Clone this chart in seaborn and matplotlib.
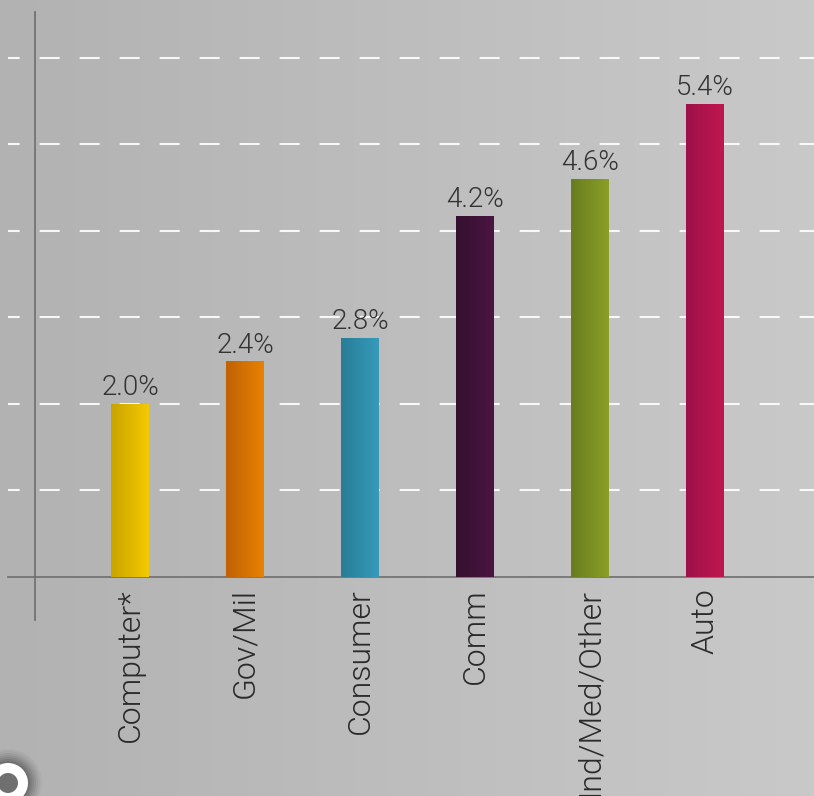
import numpy as np
import pandas as pd
import matplotlib
matplotlib.use('Agg')
import matplotlib.pyplot as plt
import seaborn as sns
from matplotlib.colors import LinearSegmentedColormap
from matplotlib.patches import Circle
from matplotlib.transforms import IdentityTransform

# Data
categories = ['Computer*', 'Gov/Mil', 'Consumer', 'Comm', 'Ind/Med/Other', 'Auto']
values = [2.0, 2.49, 2.76, 4.17, 4.60, 5.47]
value_labels = ['2.0%', '2.4%', '2.8%', '4.2%', '4.6%', '5.4%']
color_left = ['#c9a300', '#bf6206', '#287d97', '#34102f', '#687c20', '#9e1049']
color_right = ['#f4c900', '#e88102', '#369bba', '#4b1542', '#8b9e27', '#c1174f']

df = pd.DataFrame({'segment': categories, 'growth': values})

sns.set_style('white')
plt.rcParams['font.family'] = ['Roboto', 'DejaVu Sans']

W, H = 814, 796
fig = plt.figure(figsize=(W / 100, H / 100), dpi=100)

# Gray gradient background
bg = fig.add_axes([0, 0, 1, 1], zorder=-10)
bg_cmap = LinearSegmentedColormap.from_list('bg', ['#b2b2b2', '#c9c9c9'])
bg.imshow(np.linspace(0, 1, 256).reshape(1, -1), cmap=bg_cmap, aspect='auto',
          extent=[0, 1, 0, 1])
bg.set_axis_off()

# Plot area
ax = fig.add_axes([8 / W, (H - 620) / H, 806 / W, 608 / H])
ax.patch.set_alpha(0)
sns.barplot(data=df, x='segment', y='growth', hue='segment', palette=color_right,
            legend=False, width=0.33, ax=ax, zorder=3)

# Horizontal gradient fill on each bar
for patch, c0, c1 in zip(ax.patches, color_left, color_right):
    x0, y0 = patch.get_x(), patch.get_y()
    w, h = patch.get_width(), patch.get_height()
    cmap = LinearSegmentedColormap.from_list('g', [c0, c1])
    im = ax.imshow(np.linspace(0, 1, 64).reshape(1, -1), cmap=cmap, aspect='auto',
                   extent=[x0, x0 + w, y0, y0 + h], zorder=3)
    im.set_clip_path(patch)
    patch.set_facecolor('none')
    patch.set_edgecolor('none')

# Value labels above bars
for cont, lab in zip(ax.containers, value_labels):
    ax.bar_label(cont, labels=[lab], padding=2, fontsize=20, color='#333333',
                 fontweight=300)

ax.set_xlim(-1.061, 5.948)
ax.set_ylim(-0.5, 6.53)
ax.set_yticks([1, 2, 3, 4, 5, 6])
ax.set_yticklabels([])
ax.yaxis.grid(True, color='white', linewidth=1.5, alpha=0.9,
              linestyle=(4, (9.6, 9.6)))
ax.set_axisbelow(True)

for side in ['top', 'right']:
    ax.spines[side].set_visible(False)
ax.spines['left'].set_position(('axes', 27 / 806))
ax.spines['bottom'].set_position(('data', 0))
for side in ['left', 'bottom']:
    ax.spines[side].set_color('#6e6e6e')
    ax.spines[side].set_linewidth(1.2)

ax.tick_params(axis='both', length=0)
ax.tick_params(axis='x', pad=8)
ax.set_xticks(range(len(categories)))
ax.set_xticklabels(categories, rotation=90, fontsize=23, color='#2a2a2a',
                   fontweight=300)
ax.set_xlabel('')
ax.set_ylabel('')

# Round button in the lower-left corner
for r, a in zip(range(34, 20, -2), [0.03, 0.04, 0.05, 0.06, 0.07, 0.08, 0.09]):
    fig.patches.append(Circle((8, 13), r, transform=IdentityTransform(),
                              facecolor='black', alpha=a, edgecolor='none'))
fig.patches.append(Circle((8, 13), 20, transform=IdentityTransform(),
                          facecolor='white', edgecolor='none'))
fig.patches.append(Circle((8, 13), 10, transform=IdentityTransform(),
                          facecolor='#6f6f6f', edgecolor='none'))

fig.savefig('out.png', dpi=100)
